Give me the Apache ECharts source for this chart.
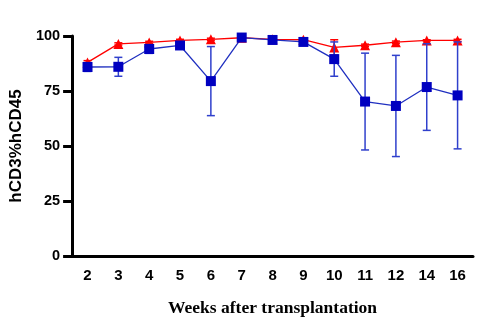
<!DOCTYPE html>
<html>
<head>
<meta charset="utf-8">
<script src="https://cdn.jsdelivr.net/npm/echarts@6/dist/echarts.min.js"></script>
<style>html,body{margin:0;padding:0;background:#fff;}#c{width:478px;height:322px;}</style>
</head>
<body>
<div id="c"></div>
<script>
var weeks = ['2','3','4','5','6','7','8','9','10','11','12','14','16'];
var redMean = [88, 96.4, 97.1, 98, 98.5, 99.2, 98.5, 98.3, 94.8, 95.8, 97.2, 98, 98];
var redSD   = [0.8, 0.5, 0.5, 0.5, 0.5, 0.3, 0.3, 0.5, 3.5, 0.5, 0.5, 0.3, 0.5];
var blueMean = [85.9, 86, 94.1, 95.7, 79.5, 99.3, 98.2, 97.3, 89.5, 70.2, 68.2, 76.8, 73];
var blueSD   = [2, 4.3, 2, 1, 15.7, 0.5, 0.5, 1, 7.8, 22, 23, 19.7, 24.3];
var yTicks = [0, 25, 50, 75, 100];

var RED = '#ff0000', BLUE = '#0000c0', BLUE_ERR = '#3040cc';

function errData(mean, sd){
  return mean.map(function(m,i){ return [i, m - sd[i], m + sd[i]]; });
}
function errRender(color){
  return function(params, api){
    var x = api.value(0);
    var lo = api.coord([x, api.value(1)]);
    var hi = api.coord([x, api.value(2)]);
    var w = 4;
    var st = {stroke: color, lineWidth: 1.5, fill: null};
    return {type:'group', children:[
      {type:'line', shape:{x1:lo[0],y1:lo[1],x2:hi[0],y2:hi[1]}, style:st},
      {type:'line', shape:{x1:lo[0]-w,y1:lo[1],x2:lo[0]+w,y2:lo[1]}, style:st},
      {type:'line', shape:{x1:hi[0]-w,y1:hi[1],x2:hi[0]+w,y2:hi[1]}, style:st}
    ]};
  };
}

var chart = echarts.init(document.getElementById('c'));
chart.setOption({
  animation: false,
  grid: {left: 70, right: 5, top: 36, bottom: 66},
  xAxis: {
    type: 'category', data: weeks, boundaryGap: true,
    axisLine: {lineStyle: {color: '#000', width: 3}},
    axisTick: {alignWithLabel: true, length: 9, lineStyle: {color: '#000', width: 3}},
    axisLabel: {color: '#000', fontFamily: 'Liberation Sans, Arial', fontWeight: 'bold', fontSize: 15, margin: 12},
    name: 'Weeks after transplantation', nameLocation: 'middle', nameGap: 43,
    nameTextStyle: {color: '#000', fontFamily: 'Liberation Serif, Times New Roman', fontWeight: 'bold', fontSize: 17.5}
  },
  yAxis: {
    type: 'value', min: 0, max: 100, interval: 25,
    axisLine: {show: true, lineStyle: {color: '#000', width: 3}},
    axisTick: {show: true, inside: false, length: 9, lineStyle: {color: '#000', width: 3}},
    splitLine: {show: false},
    axisLabel: {color: '#000', fontFamily: 'Liberation Sans, Arial', fontWeight: 'bold', fontSize: 14.5, margin: 12},
    name: 'hCD3%hCD45', nameLocation: 'middle', nameGap: 43,
    nameTextStyle: {color: '#000', fontFamily: 'Liberation Sans, Arial', fontWeight: 'bold', fontSize: 17}
  },
  series: [
    {type: 'custom', renderItem: errRender(RED), data: errData(redMean, redSD), z: 2},
    {type: 'line', data: redMean, symbol: 'triangle', symbolSize: 10,
      itemStyle: {color: RED}, lineStyle: {color: RED, width: 1.3}, z: 3},
    {type: 'custom', renderItem: errRender(BLUE_ERR), data: errData(blueMean, blueSD), z: 4},
    {type: 'line', data: blueMean, symbol: 'rect', symbolSize: 10,
      itemStyle: {color: BLUE}, lineStyle: {color: '#2030c0', width: 1.3}, z: 5}
  ]
});
</script>
</body>
</html>
